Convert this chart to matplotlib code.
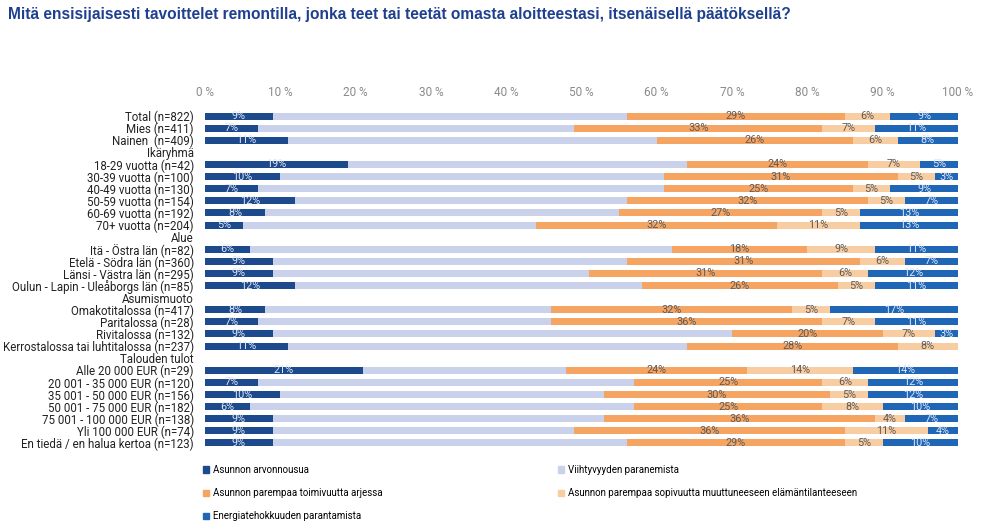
import matplotlib
matplotlib.use("Agg")
import matplotlib.pyplot as plt
from matplotlib.patches import Patch
import numpy as np

title = "Mitä ensisijaisesti tavoittelet remontilla, jonka teet tai teetät omasta aloitteestasi, itsenäisellä päätöksellä?"

categories = [
    "Total (n=822)", "Mies (n=411)", "Nainen  (n=409)", "Ikäryhmä",
    "18-29 vuotta (n=42)", "30-39 vuotta (n=100)", "40-49 vuotta (n=130)",
    "50-59 vuotta (n=154)", "60-69 vuotta (n=192)", "70+ vuotta (n=204)",
    "Alue", "Itä - Östra län (n=82)", "Etelä - Södra län (n=360)",
    "Länsi - Västra län (n=295)", "Oulun - Lapin - Uleåborgs län (n=85)",
    "Asumismuoto", "Omakotitalossa (n=417)", "Paritalossa (n=28)",
    "Rivitalossa (n=132)", "Kerrostalossa tai luhtitalossa (n=237)",
    "Talouden tulot", "Alle 20 000 EUR (n=29)", "20 001 - 35 000 EUR (n=120)",
    "35 001 - 50 000 EUR (n=156)", "50 001 - 75 000 EUR (n=182)",
    "75 001 - 100 000 EUR (n=138)", "Yli 100 000 EUR (n=74)",
    "En tiedä / en halua kertoa (n=123)",
]

series_names = [
    "Asunnon arvonnousua",
    "Viihtyvyyden paranemista",
    "Asunnon parempaa toimivuutta arjessa",
    "Asunnon parempaa sopivuutta muuttuneeseen elämäntilanteeseen",
    "Energiatehokkuuden parantamista",
]

# None = header row (no bar)
arvonnousu = [9, 7, 11, None, 19, 10, 7, 12, 8, 5, None, 6, 9, 9, 12, None, 8, 7, 9, 11, None, 21, 7, 10, 6, 9, 9, 9]
viihtyvyys = [47, 42, 49, None, 45, 51, 54, 44, 47, 39, None, 56, 47, 42, 46, None, 38, 39, 61, 53, None, 27, 50, 43, 51, 44, 40, 47]
toimivuus = [29, 33, 26, None, 24, 31, 25, 32, 27, 32, None, 18, 31, 31, 26, None, 32, 36, 20, 28, None, 24, 25, 30, 25, 36, 36, 29]
sopivuus = [6, 7, 6, None, 7, 5, 5, 5, 5, 11, None, 9, 6, 6, 5, None, 5, 7, 7, 8, None, 14, 6, 5, 8, 4, 11, 5]
energia = [9, 11, 8, None, 5, 3, 9, 7, 13, 13, None, 11, 7, 12, 11, None, 17, 11, 3, 0, None, 14, 12, 12, 10, 7, 4, 10]

xticks = [0, 10, 20, 30, 40, 50, 60, 70, 80, 90, 100]
xtick_labels = [f"{t} %" for t in xticks]

colors = ["#1d4a8c", "#c9d2ea", "#f5a462", "#f9cda2", "#1f66b6"]
label_colors = ["#dfe6f3", None, "#5b5b5b", "#5b5b5b", "#dfe6f3"]

plt.rcParams['font.family'] = ['Roboto', 'DejaVu Sans']

fig = plt.figure(figsize=(9.92, 5.28), dpi=100)
ax = fig.add_axes([205/992, 1 - 449/528, (958 - 205)/992, (449 - 110)/528])

series = [arvonnousu, viihtyvyys, toimivuus, sopivuus, energia]
y = np.arange(len(categories))
left = np.zeros(len(categories))
handles = []
for s, vals in enumerate(series):
    v = np.array([0 if x is None else x for x in vals], dtype=float)
    ax.barh(y, v, left=left, height=0.58, color=colors[s], edgecolor="none")
    handles.append(Patch(color=colors[s], label=series_names[s]))
    if label_colors[s] is not None:
        for i, val in enumerate(vals):
            if val is not None and val > 0:
                ax.text(left[i] + val / 2, y[i], f"{val}%", ha="center", va="center",
                        fontsize=7.8, color=label_colors[s])
    left += v

ax.set_ylim(len(categories) - 0.5, -0.5)
ax.set_xlim(0, 100)
ax.set_yticks(y)
ax.set_yticklabels(categories, fontsize=8.3, color="#222222")
ax.set_xticks(xticks)
ax.set_xticklabels(xtick_labels, fontsize=8.5, color="#8a8a8a")
ax.xaxis.tick_top()
ax.tick_params(axis="x", length=0, pad=8)
ax.tick_params(axis="y", length=0, pad=8)
for sp in ax.spines.values():
    sp.set_visible(False)

fig.text(8/992, 1 - 14/528, title, fontsize=11.2, fontweight="bold", color="#1f3f8f",
         family=["Liberation Sans", "DejaVu Sans"], ha="left", va="center")

leg_kw = dict(frameon=False, fontsize=7, handlelength=0.6, handleheight=0.6,
              handletextpad=0.4, labelspacing=1.35, borderaxespad=0, borderpad=0)
fig.legend(handles=[handles[0], handles[2], handles[4]], loc="upper left",
           bbox_to_anchor=(203/992, 1 - 465/528), **leg_kw)
fig.legend(handles=[handles[1], handles[3]], loc="upper left",
           bbox_to_anchor=(558/992, 1 - 465/528), **leg_kw)

fig.savefig("out.png", dpi=100, facecolor="white")
